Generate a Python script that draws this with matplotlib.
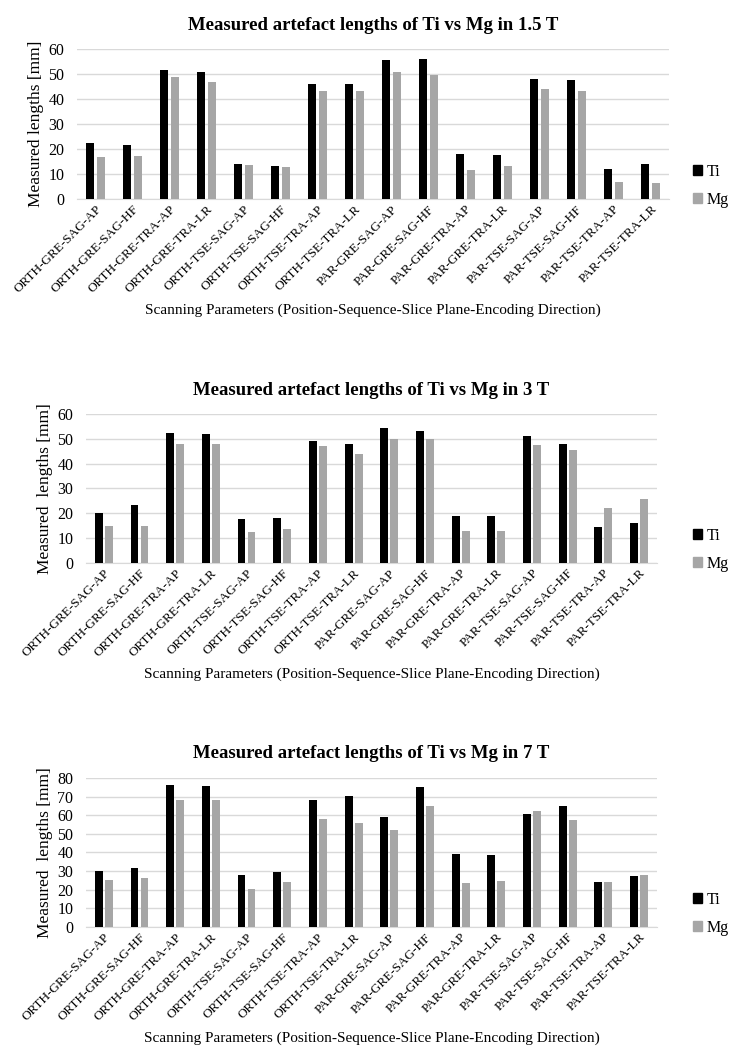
import numpy as np
import matplotlib.pyplot as plt
from matplotlib.patches import Patch

plt.rcParams['font.family'] = ['Liberation Serif', 'DejaVu Serif']

params = ["ORTH-GRE-SAG-AP", "ORTH-GRE-SAG-HF", "ORTH-GRE-TRA-AP", "ORTH-GRE-TRA-LR",
          "ORTH-TSE-SAG-AP", "ORTH-TSE-SAG-HF", "ORTH-TSE-TRA-AP", "ORTH-TSE-TRA-LR",
          "PAR-GRE-SAG-AP", "PAR-GRE-SAG-HF", "PAR-GRE-TRA-AP", "PAR-GRE-TRA-LR",
          "PAR-TSE-SAG-AP", "PAR-TSE-SAG-HF", "PAR-TSE-TRA-AP", "PAR-TSE-TRA-LR"]

ti_15 = [22.5, 21.5, 51.8, 50.8, 14.2, 13.3, 46.2, 46.2, 55.5, 56.0, 18.0, 17.6, 47.9, 47.8, 11.9, 14.0]
mg_15 = [16.9, 17.2, 48.8, 47.0, 13.5, 13.0, 43.4, 43.1, 50.7, 49.8, 11.7, 13.2, 44.1, 43.3, 7.0, 6.5]

ti_3 = [20.3, 23.4, 52.3, 52.1, 17.8, 18.1, 49.3, 48.0, 54.2, 53.3, 18.8, 18.8, 51.0, 48.0, 14.3, 16.0]
mg_3 = [15.0, 14.8, 47.8, 47.8, 12.5, 13.5, 47.0, 43.8, 50.0, 49.8, 13.0, 13.0, 47.7, 45.5, 22.0, 25.8]

ti_7 = [29.8, 31.4, 76.2, 75.6, 28.1, 29.6, 68.3, 70.2, 58.8, 75.2, 39.3, 38.7, 60.5, 64.8, 24.3, 27.3]
mg_7 = [25.4, 26.4, 67.9, 67.9, 20.2, 24.2, 57.8, 55.8, 51.8, 64.7, 23.4, 24.8, 62.5, 57.3, 24.3, 28.0]

# (title, Ti, Mg, y max, y label, axes rect in figure fractions)
panels = [
    ("Measured artefact lengths of Ti vs Mg in 1.5 T", ti_15, mg_15, 60, "Measured lengths [mm]",
     [0.1053, 0.8101, 0.810, 0.1431]),
    ("Measured artefact lengths of Ti vs Mg in 3 T", ti_3, mg_3, 60, "Measured  lengths [mm]",
     [0.1176, 0.4628, 0.781, 0.1422]),
    ("Measured artefact lengths of Ti vs Mg in 7 T", ti_7, mg_7, 80, "Measured  lengths [mm]",
     [0.1176, 0.1155, 0.781, 0.1422]),
]

TI_COL = "#000000"
MG_COL = "#a6a6a6"

fig = plt.figure(figsize=(7.31, 10.48), dpi=100)
x = np.arange(len(params))
w = 0.22
off = 0.14

for title, ti, mg, ymax, ylab, rect in panels:
    ax = fig.add_axes(rect)
    ax.bar(x - off, ti, w, color=TI_COL, zorder=3)
    ax.bar(x + off, mg, w, color=MG_COL, zorder=3)
    ax.set_xlim(-0.5, len(params) - 0.5)
    ax.set_ylim(0, ymax)
    ax.set_yticks(np.arange(0, ymax + 1, 10))
    ax.grid(axis='y', color='#d9d9d9', linewidth=1, zorder=0)
    for s in ['top', 'right', 'left']:
        ax.spines[s].set_visible(False)
    ax.spines['bottom'].set_color('#d9d9d9')
    ax.tick_params(axis='both', length=0, labelsize=11.5)
    ax.tick_params(axis='y', pad=9)
    ax.set_xticks(x)
    ax.set_xticklabels(params, rotation=45, ha='right', rotation_mode='anchor', fontsize=9.5)
    ax.tick_params(axis='x', pad=3)
    ax.set_title(title, fontsize=13.5, fontweight='bold', pad=14)
    ax.set_ylabel(ylab, fontsize=12.5, labelpad=3)
    ax.set_xlabel("Scanning Parameters (Position-Sequence-Slice Plane-Encoding Direction)",
                  fontsize=11, labelpad=6)
    lx = (693 / 731 - rect[0]) / rect[2]
    handles = [Patch(color=TI_COL, label="Ti"), Patch(color=MG_COL, label="Mg")]
    ax.legend(handles=handles, loc='center left', bbox_to_anchor=(lx, 0.09), frameon=False,
              fontsize=11.5, handlelength=0.55, handleheight=0.55, handletextpad=0.3,
              labelspacing=0.75, borderpad=0, borderaxespad=0)

fig.savefig("out.png", dpi=100)
